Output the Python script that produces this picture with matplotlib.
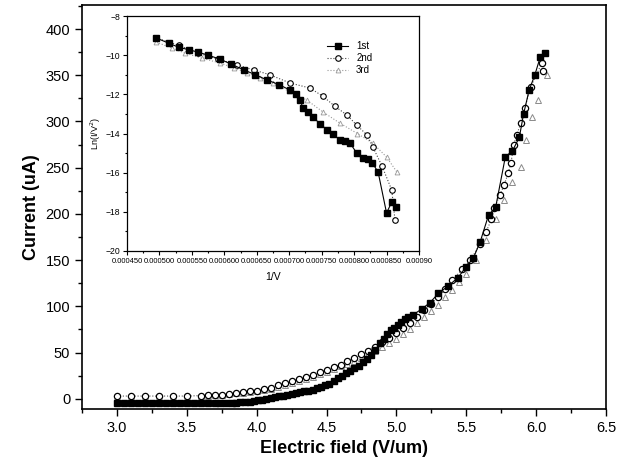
import numpy as np
import matplotlib.pyplot as plt
from matplotlib.ticker import MultipleLocator

plt.rcParams['font.family'] = ['Liberation Sans', 'DejaVu Sans']

# main plot: current vs electric field
e1 = [3.00, 3.05, 3.10, 3.15, 3.20, 3.25, 3.30, 3.35, 3.40, 3.45, 3.50, 3.55,
      3.60, 3.65, 3.70, 3.74, 3.78, 3.82, 3.85, 3.88, 3.92, 3.95, 3.98, 4.01,
      4.04, 4.07, 4.10, 4.13, 4.16, 4.19, 4.22, 4.25, 4.28, 4.31, 4.34, 4.37,
      4.40, 4.43, 4.46, 4.49, 4.52, 4.55, 4.58, 4.61, 4.64, 4.67, 4.70, 4.73,
      4.76, 4.79, 4.82, 4.85, 4.88, 4.91, 4.93, 4.96, 4.98, 5.01, 5.03, 5.06,
      5.08, 5.12, 5.18, 5.24, 5.30, 5.37, 5.44, 5.50, 5.55, 5.60, 5.66, 5.71,
      5.78, 5.83, 5.88, 5.91, 5.95, 5.99, 6.03, 6.06]
i1 = [-5, -5, -5, -5, -5, -5, -5, -5, -5, -5, -5, -5,
      -5, -5, -5, -4.8, -4.5, -4.2, -4, -3.8, -3.5, -3, -2.5, -1.8,
      -1, 0, 1, 2, 3, 3.5, 4, 5, 6, 7, 8, 9,
      10, 11.5, 13, 14.5, 16, 19, 22, 25, 28, 30, 33, 36,
      40, 43, 47, 53, 60, 65, 70, 74, 77, 80, 83, 86,
      88, 91, 97, 104, 114, 122, 131, 143, 152, 170, 199, 207,
      262, 268, 283, 308, 334, 350, 370, 374]

e2 = [3.00, 3.10, 3.20, 3.30, 3.40, 3.50, 3.60, 3.65, 3.70, 3.75, 3.80, 3.85,
      3.90, 3.95, 4.00, 4.05, 4.10, 4.15, 4.20, 4.25, 4.30, 4.35, 4.40, 4.45,
      4.50, 4.55, 4.60, 4.65, 4.70, 4.75, 4.80, 4.85, 4.90, 4.95, 5.00, 5.05,
      5.10, 5.15, 5.20, 5.25, 5.30, 5.35, 5.40, 5.47, 5.53, 5.60, 5.64, 5.68,
      5.70, 5.74, 5.77, 5.80, 5.82, 5.84, 5.86, 5.89, 5.92, 5.96, 6.04, 6.05]
i2 = [3, 3, 3, 3, 3, 3, 3.5, 3.8, 4, 4.5, 5, 6,
      7, 8, 9, 10.5, 12, 14.5, 17, 19, 21, 23.5, 26, 28.5,
      31, 34, 37, 40.5, 44, 48, 52, 56.5, 61, 66, 71, 76.5,
      82, 89, 96, 103, 110, 119, 128, 140, 150, 168, 180, 194,
      206, 220, 231, 244, 255, 275, 285, 298, 315, 337, 363, 355]

e3 = [3.00, 3.10, 3.20, 3.30, 3.40, 3.50, 3.60, 3.65, 3.70, 3.75, 3.80, 3.85,
      3.90, 3.95, 4.00, 4.05, 4.10, 4.15, 4.20, 4.25, 4.30, 4.35, 4.40, 4.45,
      4.50, 4.55, 4.60, 4.65, 4.70, 4.75, 4.80, 4.85, 4.90, 4.95, 5.00, 5.05,
      5.10, 5.15, 5.20, 5.25, 5.30, 5.35, 5.40, 5.45, 5.50, 5.57, 5.64, 5.71,
      5.77, 5.83, 5.89, 5.93, 5.97, 6.01, 6.08]
i3 = [2, 2, 2, 2, 2.5, 2.5, 3, 3.5, 4, 4.5, 5, 5.8,
      6.5, 7.2, 8, 9.5, 11, 13, 15, 17, 19, 21.5, 24, 26.5,
      29, 32, 35, 38, 41, 44.5, 48, 52, 56, 60.5, 65, 70.5,
      76, 82, 88, 95, 102, 110, 118, 126, 135, 150, 172, 194,
      215, 235, 251, 280, 305, 323, 350]

# inset: F-N plot
x1 = [0.000495, 0.000515, 0.000530, 0.000545, 0.000560, 0.000575, 0.000593,
      0.000610, 0.000630, 0.000648, 0.000666, 0.000684, 0.000701, 0.000710,
      0.000717, 0.000721, 0.000729, 0.000737, 0.000747, 0.000758, 0.000768,
      0.000778, 0.000786, 0.000794, 0.000804, 0.000814, 0.000821, 0.000828,
      0.000837, 0.000850, 0.000858, 0.000865]
y1 = [-9.12, -9.4, -9.6, -9.72, -9.85, -10.0, -10.2,
      -10.45, -10.75, -11.0, -11.27, -11.5, -11.78, -12.0,
      -12.29, -12.7, -12.9, -13.16, -13.5, -13.8, -14.05,
      -14.33, -14.4, -14.5, -15.0, -15.26, -15.3, -15.5,
      -15.97, -18.06, -17.5, -17.75]
x2 = [0.000495, 0.000530, 0.000560, 0.000590, 0.000620, 0.000645, 0.000670,
      0.000701, 0.000732, 0.000752, 0.000770, 0.000789, 0.000804, 0.000820,
      0.000829, 0.000843, 0.000858, 0.000863]
y2 = [-9.12, -9.5, -9.9, -10.2, -10.5, -10.75, -11.0,
      -11.42, -11.68, -12.1, -12.6, -13.06, -13.57, -14.08,
      -14.7, -15.66, -16.89, -18.42]
x3 = [0.000495, 0.000520, 0.000540, 0.000565, 0.000593, 0.000615, 0.000635,
      0.000655, 0.000675, 0.000700, 0.000727, 0.000752, 0.000778, 0.000805,
      0.000829, 0.000850, 0.000866]
y3 = [-9.33, -9.65, -9.9, -10.15, -10.4, -10.65, -10.9,
      -11.15, -11.42, -11.85, -12.29, -12.9, -13.47, -14.0,
      -14.5, -15.2, -15.97]

ix_ticks = [0.00045, 0.0005, 0.00055, 0.0006, 0.00065, 0.0007, 0.00075,
            0.0008, 0.00085, 0.0009]
ix_labels = ['0.000450', '0.000500', '0.000550', '0.000600', '0.000650',
             '0.000700', '0.000750', '0.000800', '0.000850', '0.00090']

fig = plt.figure(figsize=(6.32, 4.75), dpi=100)
ax = fig.add_axes([82/632, 1-409/475, (606-82)/632, (409-5)/475])

ax.plot(e3, i3, ls='none', marker='^', ms=4.5, mfc='white', mec='#8a8a8a', mew=0.7)
ax.plot(e2, i2, ls=':', color='#555555', lw=0.8, marker='o', ms=4.5,
        mfc='white', mec='black', mew=0.9)
ax.plot(e1, i1, ls='-', color='black', lw=0.8, marker='s', ms=4.5,
        mfc='black', mec='black')

ax.set_xlim(2.75, 6.5)
ax.set_ylim(-11, 426)
ax.xaxis.set_major_locator(MultipleLocator(0.5))
ax.xaxis.set_minor_locator(MultipleLocator(0.25))
ax.yaxis.set_major_locator(MultipleLocator(50))
ax.yaxis.set_minor_locator(MultipleLocator(25))
ax.tick_params(which='both', direction='out', top=False, right=False, width=1.0)
ax.tick_params(which='major', length=5, labelsize=10.5)
ax.tick_params(which='minor', length=3)
ax.xaxis.set_major_formatter(plt.FormatStrFormatter('%.1f'))
for s in ax.spines.values():
    s.set_linewidth(1.2)
ax.set_xlabel('Electric field (V/um)', fontsize=13, fontweight='bold', labelpad=4)
ax.set_ylabel('Current (uA)', fontsize=13, fontweight='bold', labelpad=4)

ins = fig.add_axes([127/632, 1-251/475, (419-127)/632, (251-16)/475])
ins.plot(x3, y3, ls=':', color='#999999', lw=0.8, marker='^', ms=3.5,
         mfc='white', mec='#999999', mew=0.6, label='3rd')
ins.plot(x2, y2, ls=':', color='#444444', lw=0.8, marker='o', ms=4,
         mfc='white', mec='black', mew=0.8, label='2nd')
ins.plot(x1, y1, ls='-', color='black', lw=0.8, marker='s', ms=4,
         mfc='black', mec='black', label='1st')
ins.set_xlim(0.00045, 0.0009)
ins.set_ylim(-20, -8)
ins.set_xticks(ix_ticks)
ins.set_xticklabels(ix_labels)
ins.xaxis.set_minor_locator(MultipleLocator(0.000025))
ins.yaxis.set_major_locator(MultipleLocator(2))
ins.yaxis.set_minor_locator(MultipleLocator(1))
ins.tick_params(which='both', direction='out', top=False, right=False, width=0.8)
ins.tick_params(which='major', length=3, labelsize=6.2, pad=2)
ins.tick_params(axis='x', which='major', labelsize=5.5)
ins.tick_params(which='minor', length=1.5)
ins.set_xlabel('1/V', fontsize=7.5, labelpad=5)
ins.set_ylabel('Ln(I/V$^2$)', fontsize=6.5, labelpad=2)
for s in ins.spines.values():
    s.set_linewidth(0.9)
h, l = ins.get_legend_handles_labels()
ins.legend(h[::-1], l[::-1], loc='upper right', bbox_to_anchor=(0.87, 0.93),
           fontsize=7, frameon=False, handlelength=2.2, labelspacing=0.2)

fig.savefig('out.png', dpi=100)
